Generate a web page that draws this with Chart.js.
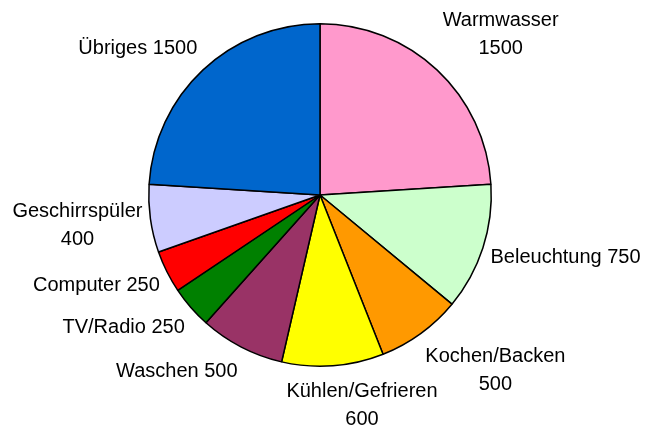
<!DOCTYPE html>
<html>
<head>
<meta charset="utf-8">
<script src="https://cdn.jsdelivr.net/npm/chart.js@4/dist/chart.umd.min.js"></script>
<style>
  html, body { margin: 0; padding: 0; background: #fff; }
  #wrap { width: 648px; height: 432px; }
</style>
</head>
<body>
<div id="wrap"><canvas id="pie-chart"></canvas></div>
<script>
var categories = ['Warmwasser', 'Beleuchtung', 'Kochen/Backen', 'Kühlen/Gefrieren', 'Waschen',
    'TV/Radio', 'Computer', 'Geschirrspüler', 'Übriges'];
var values = [1500, 750, 500, 600, 500, 250, 250, 400, 1500];
var colours = ['#FF99CC', '#CCFFCC', '#FF9900', '#FFFF00', '#993366',
    '#008000', '#FF0000', '#CCCCFF', '#0066CC'];
// value on its own line below the name
var twoLines = [true, false, true, true, false, false, false, true, false];

function clamp(v) {
    return Math.max(-1, Math.min(1, v));
}

var outsideLabels = {
    id: 'outsideLabels',
    afterDraw: function (chart) {
        var ctx = chart.ctx;
        var meta = chart.getDatasetMeta(0);
        ctx.save();
        ctx.font = '20px "Liberation Sans", Arial, sans-serif';
        ctx.fillStyle = '#000';
        ctx.textBaseline = 'middle';
        ctx.textAlign = 'center';
        var lineH = 28;
        meta.data.forEach(function (arc, i) {
            var lines = twoLines[i] ? [categories[i], String(values[i])]
                : [categories[i] + ' ' + values[i]];
            var w = 0;
            lines.forEach(function (l) { w = Math.max(w, ctx.measureText(l).width); });
            var h = lines.length * lineH - 8;
            var a = (arc.startAngle + arc.endAngle) / 2;
            // anchor a little outside the rim (slightly more room above/below)
            var ax = arc.x + Math.cos(a) * (arc.outerRadius + 8);
            var ay = arc.y + Math.sin(a) * (arc.outerRadius + 16);
            // box touches the anchor with its side / corner nearest the pie
            var cx = ax + clamp(Math.cos(a) * 5) * w / 2;
            var cy = ay + clamp(Math.sin(a) * 1.4) * h / 2;
            lines.forEach(function (l, k) {
                ctx.fillText(l, cx, cy + (k - (lines.length - 1) / 2) * lineH);
            });
        });
        ctx.restore();
    }
};

var ctx = document.getElementById('pie-chart').getContext('2d');

var pieChart = new Chart(ctx, {
    type: 'pie',
    data: {
        labels: categories,
        datasets: [
            {
                data: values,
                backgroundColor: colours,
                borderColor: '#000',
                borderWidth: 1.5
            }
        ]
    },
    options: {
        responsive: true,
        maintainAspectRatio: false,
        animation: false,
        layout: {
            padding: { left: 148, right: 156, top: 22, bottom: 64 }
        },
        plugins: {
            legend: { display: false },
            tooltip: { enabled: false }
        }
    },
    plugins: [outsideLabels]
});
</script>
</body>
</html>
